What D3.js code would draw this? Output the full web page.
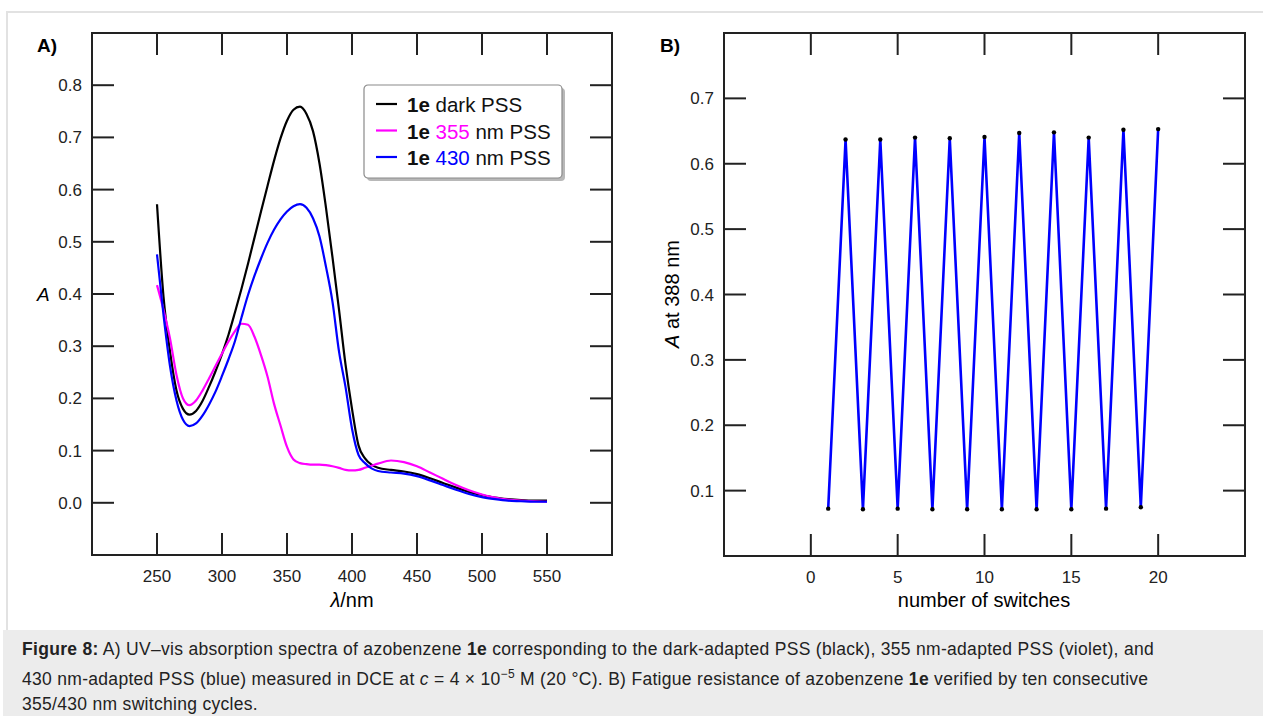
<!DOCTYPE html>
<html>
<head>
<meta charset="utf-8">
<script src="https://cdn.jsdelivr.net/npm/d3@7"></script>
<style>
  body { margin: 0; background: #fff; font-family: "Liberation Sans", Arial, sans-serif; }
  #wrap { position: relative; width: 1263px; height: 716px; overflow: hidden; }
  #caption {
    position: absolute; left: 3px; top: 630px; width: 1260px; height: 86px;
    background: #ececec; box-sizing: border-box; padding: 7px 0 0 19px;
    font-size: 17.5px; letter-spacing: 0.3px; line-height: 25px; color: #222;
  }
</style>
</head>
<body>
<div id="wrap">
  <div id="chart"></div>
  <div id="caption">
    <b>Figure 8:</b> A) UV–vis absorption spectra of azobenzene <b>1e</b> corresponding to the dark-adapted PSS (black), 355 nm-adapted PSS (violet), and<br>
    430 nm-adapted PSS (blue) measured in DCE at <i>c</i> = 4 × 10<sup style="font-size:12px">−5</sup> M (20 °C). B) Fatigue resistance of azobenzene <b>1e</b> verified by ten consecutive<br>
    355/430 nm switching cycles.
  </div>
</div>
<script>
// Panel A: wavelength grid (nm) and absorbance of the three PSS spectra
const wavelengths = [250,255,260,265,270,275,280,285,290,295,300,305,310,315,320,325,330,335,340,345,350,355,360,365,370,375,380,385,390,395,400,405,410,415,420,430,440,450,460,470,480,490,500,510,520,530,540,550];
const darkPSS = [0.572,0.395,0.29,0.215,0.180,0.169,0.176,0.195,0.222,0.252,0.285,0.322,0.365,0.41,0.458,0.508,0.558,0.607,0.655,0.698,0.732,0.753,0.759,0.745,0.712,0.65,0.565,0.47,0.37,0.265,0.18,0.11,0.085,0.073,0.067,0.063,0.06,0.055,0.047,0.038,0.029,0.021,0.015,0.010,0.007,0.005,0.004,0.004];
const pss355 = [0.417,0.37,0.315,0.245,0.200,0.187,0.196,0.215,0.238,0.262,0.286,0.309,0.329,0.343,0.341,0.318,0.283,0.242,0.19,0.148,0.107,0.083,0.076,0.074,0.073,0.073,0.072,0.07,0.067,0.063,0.062,0.063,0.067,0.071,0.075,0.081,0.078,0.07,0.058,0.046,0.034,0.024,0.016,0.010,0.006,0.004,0.003,0.002];
const pss430 = [0.476,0.36,0.262,0.196,0.159,0.147,0.152,0.167,0.188,0.213,0.243,0.275,0.31,0.355,0.398,0.435,0.468,0.498,0.523,0.543,0.558,0.568,0.572,0.565,0.545,0.51,0.452,0.385,0.29,0.222,0.142,0.092,0.076,0.066,0.061,0.058,0.056,0.051,0.043,0.034,0.025,0.017,0.011,0.007,0.004,0.003,0.002,0.002];
const seriesNames = ["dark", "355", "430"];
const seriesColors = ["#000000", "#ff00ff", "#0000ff"];
const xTicksA = [250,300,350,400,450,500,550];
const yTicksA = [0.0,0.1,0.2,0.3,0.4,0.5,0.6,0.7,0.8];

// Panel B: absorbance at 388 nm after each switch
const switches = [1,2,3,4,5,6,7,8,9,10,11,12,13,14,15,16,17,18,19,20];
const absorbance388 = [0.0724,0.637,0.0714,0.637,0.0724,0.640,0.0714,0.639,0.0714,0.641,0.0714,0.647,0.0714,0.648,0.0714,0.640,0.0724,0.652,0.0745,0.653];
const xTicksB = [0,5,10,15,20];
const yTicksB = [0.1,0.2,0.3,0.4,0.5,0.6,0.7];

const svg = d3.select("#chart").append("svg")
    .attr("width", 1263)
    .attr("height", 716)
    .style("position", "absolute")
    .style("left", 0).style("top", 0)
    .style("font-family", "'Liberation Sans', Arial, sans-serif");

// light frame around the figure
svg.append("path")
    .attr("d", "M7,630 V12 H1263")
    .attr("fill", "none")
    .attr("stroke", "#e2e2e2")
    .attr("stroke-width", 2);

const tickLen = 22;

// draws a boxed frame with inward ticks on all four sides
function drawFrame(g, x, y, xTicks, yTicks, fmtY) {
    const [x0, x1] = x.range();
    const [y0, y1] = y.range();
    const w = x1 - x0, h = y0 - y1;

    g.append("rect")
        .attr("x", x0).attr("y", y1)
        .attr("width", w).attr("height", h)
        .attr("fill", "none").attr("stroke", "#222").attr("stroke-width", 2);

    // bottom + top ticks
    g.selectAll(".xb").data(xTicks).enter().append("line")
        .attr("x1", d => x(d)).attr("x2", d => x(d))
        .attr("y1", y0).attr("y2", y0 - tickLen)
        .attr("stroke", "#222").attr("stroke-width", 2);
    g.selectAll(".xt").data(xTicks).enter().append("line")
        .attr("x1", d => x(d)).attr("x2", d => x(d))
        .attr("y1", y1).attr("y2", y1 + tickLen)
        .attr("stroke", "#222").attr("stroke-width", 2);
    // left + right ticks
    g.selectAll(".yl").data(yTicks).enter().append("line")
        .attr("x1", x0).attr("x2", x0 + tickLen)
        .attr("y1", d => y(d)).attr("y2", d => y(d))
        .attr("stroke", "#222").attr("stroke-width", 2);
    g.selectAll(".yr").data(yTicks).enter().append("line")
        .attr("x1", x1).attr("x2", x1 - tickLen)
        .attr("y1", d => y(d)).attr("y2", d => y(d))
        .attr("stroke", "#222").attr("stroke-width", 2);

    // tick labels
    g.selectAll(".xl").data(xTicks).enter().append("text")
        .attr("x", d => x(d)).attr("y", y0 + 27)
        .attr("text-anchor", "middle")
        .attr("font-size", 17).attr("fill", "#222")
        .text(d => d);
    g.selectAll(".ylab").data(yTicks).enter().append("text")
        .attr("x", x0 - 10).attr("y", d => y(d) + 6)
        .attr("text-anchor", "end")
        .attr("font-size", 17).attr("fill", "#222")
        .text(fmtY);
}

// ---------- Panel A ----------
const xA = d3.scaleLinear().domain([200, 600]).range([92, 612]);
const yA = d3.scaleLinear().domain([-0.1, 0.9]).range([555, 33]);
const gA = svg.append("g");

drawFrame(gA, xA, yA, xTicksA, yTicksA, d3.format(".1f"));

const lineA = d3.line()
    .x(d => xA(d[0]))
    .y(d => yA(d[1]))
    .curve(d3.curveMonotoneX);

[darkPSS, pss355, pss430].forEach((vals, i) => {
    gA.append("path")
        .datum(wavelengths.map((w, j) => [w, vals[j]]))
        .attr("fill", "none")
        .attr("stroke", seriesColors[i])
        .attr("stroke-width", 2.2)
        .attr("d", lineA);
});

gA.append("text").attr("x", 37).attr("y", 52)
    .attr("font-size", 19).attr("font-weight", "bold").text("A)");
gA.append("text").attr("x", 37).attr("y", 301)
    .attr("font-size", 19).attr("font-style", "italic").text("A");
const xtA = gA.append("text").attr("x", 352).attr("y", 607)
    .attr("text-anchor", "middle").attr("font-size", 20);
xtA.append("tspan").attr("font-style", "italic").text("λ");
xtA.append("tspan").text("/nm");

// legend
const lg = gA.append("g").attr("transform", "translate(364,85)");
lg.append("rect").attr("x", 3).attr("y", 3).attr("width", 198).attr("height", 93)
    .attr("rx", 4).attr("fill", "#b8b8b8");
lg.append("rect").attr("width", 198).attr("height", 93)
    .attr("rx", 4).attr("fill", "#fff").attr("stroke", "#8a8a8a").attr("stroke-width", 1.2);
seriesNames.forEach((name, i) => {
    const yy = 19 + i * 26.5;
    lg.append("line").attr("x1", 12).attr("x2", 33).attr("y1", yy).attr("y2", yy)
        .attr("stroke", seriesColors[i]).attr("stroke-width", 2.2);
    const t = lg.append("text").attr("x", 43).attr("y", yy + 8).attr("font-size", 20.5).attr("fill", "#111");
    t.append("tspan").attr("font-weight", "bold").text("1e ");
    if (name === "dark") {
        t.append("tspan").text("dark PSS");
    } else {
        t.append("tspan").attr("fill", seriesColors[i]).text(name);
        t.append("tspan").text(" nm PSS");
    }
});

// ---------- Panel B ----------
const xB = d3.scaleLinear().domain([-5, 25]).range([724, 1245]);
const yB = d3.scaleLinear().domain([0, 0.8]).range([556, 33]);
const gB = svg.append("g");

drawFrame(gB, xB, yB, xTicksB, yTicksB, d3.format(".1f"));

const pointsB = switches.map((s, i) => [s, absorbance388[i]]);

gB.append("path")
    .datum(pointsB)
    .attr("fill", "none")
    .attr("stroke", "#0000ff")
    .attr("stroke-width", 2.6)
    .attr("d", d3.line().x(d => xB(d[0])).y(d => yB(d[1])));

gB.selectAll(".dot").data(pointsB).enter().append("circle")
    .attr("cx", d => xB(d[0])).attr("cy", d => yB(d[1]))
    .attr("r", 2.2).attr("fill", "#000");

gB.append("text").attr("x", 660).attr("y", 52)
    .attr("font-size", 19).attr("font-weight", "bold").text("B)");
gB.append("text").attr("x", 984).attr("y", 607)
    .attr("text-anchor", "middle").attr("font-size", 20).text("number of switches");
const ytB = gB.append("text")
    .attr("transform", "translate(679,294) rotate(-90)")
    .attr("text-anchor", "middle").attr("font-size", 20);
ytB.append("tspan").attr("font-style", "italic").text("A");
ytB.append("tspan").text(" at 388 nm");
</script>
</body>
</html>
